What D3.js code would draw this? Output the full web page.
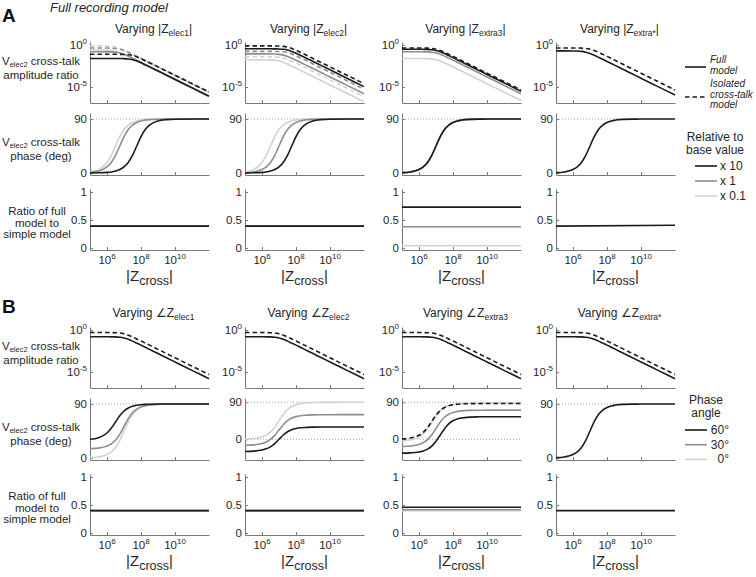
<!DOCTYPE html>
<html><head><meta charset="utf-8">
<script src="https://cdn.jsdelivr.net/npm/d3@7"></script>
<style>
body{margin:0;background:#fff;}
svg{font-family:"Liberation Sans",Arial,Helvetica,sans-serif;}
</style></head><body>
<svg id="c" width="756" height="577"></svg>
<script>
// ---------- DATA ----------
const zLog = [5,5.5,6,6.25,6.5,6.75,7,7.25,7.5,7.75,8,8.25,8.5,9,9.5,10,11,12]; // log10 |Z_cross|
const xTickExp = [6,8,10];

// amplitude ratio, log10 values (A = vary magnitude)
const ampA1_s10 = [-1.6,-1.6,-1.6,-1.6,-1.6,-1.61,-1.62,-1.66,-1.75,-1.91,-2.12,-2.36,-2.6,-3.1,-3.6,-4.1,-5.1,-6.1];
const ampA1_s1  = [-0.8,-0.8,-0.81,-0.82,-0.86,-0.95,-1.11,-1.32,-1.56,-1.8,-2.05,-2.3,-2.55,-3.05,-3.55,-4.05,-5.05,-6.05];
const ampA1_s01 = [-0.6,-0.6,-0.62,-0.66,-0.75,-0.91,-1.12,-1.36,-1.6,-1.85,-2.1,-2.35,-2.6,-3.1,-3.6,-4.1,-5.1,-6.1];
const ampA1_d10 = [-1.1,-1.1,-1.1,-1.1,-1.1,-1.11,-1.12,-1.16,-1.25,-1.41,-1.62,-1.86,-2.1,-2.6,-3.1,-3.6,-4.6,-5.6];
const ampA1_d1  = [-0.35,-0.35,-0.36,-0.37,-0.41,-0.5,-0.66,-0.87,-1.11,-1.35,-1.6,-1.85,-2.1,-2.6,-3.1,-3.6,-4.6,-5.6];
const ampA1_d01 = [-0.1,-0.1,-0.12,-0.16,-0.25,-0.41,-0.62,-0.86,-1.1,-1.35,-1.6,-1.85,-2.1,-2.6,-3.1,-3.6,-4.6,-5.6];

const ampA2_s10 = [-0.45,-0.45,-0.45,-0.45,-0.45,-0.46,-0.47,-0.51,-0.6,-0.76,-0.97,-1.21,-1.45,-1.95,-2.45,-2.95,-3.95,-4.95];
const ampA2_s1  = [-1.05,-1.05,-1.05,-1.05,-1.06,-1.07,-1.11,-1.2,-1.36,-1.57,-1.81,-2.05,-2.3,-2.8,-3.3,-3.8,-4.8,-5.8];
const ampA2_s01 = [-1.75,-1.75,-1.75,-1.76,-1.77,-1.81,-1.9,-2.06,-2.27,-2.51,-2.75,-3.0,-3.25,-3.75,-4.25,-4.75,-5.75,-6.75];
const ampA2_d10 = [-0.1,-0.1,-0.1,-0.1,-0.1,-0.11,-0.12,-0.16,-0.25,-0.41,-0.62,-0.86,-1.1,-1.6,-2.1,-2.6,-3.6,-4.6];
const ampA2_d1  = [-0.75,-0.75,-0.75,-0.75,-0.75,-0.76,-0.77,-0.81,-0.9,-1.06,-1.27,-1.51,-1.75,-2.25,-2.75,-3.25,-4.25,-5.25];
const ampA2_d01 = [-1.4,-1.4,-1.4,-1.4,-1.41,-1.42,-1.46,-1.55,-1.71,-1.92,-2.16,-2.4,-2.65,-3.15,-3.65,-4.15,-5.15,-6.15];

const ampA3_s10 = [-0.5,-0.5,-0.5,-0.51,-0.52,-0.56,-0.65,-0.81,-1.02,-1.26,-1.5,-1.75,-2.0,-2.5,-3.0,-3.5,-4.5,-5.5];
const ampA3_s1  = [-0.8,-0.8,-0.8,-0.81,-0.82,-0.86,-0.95,-1.11,-1.32,-1.56,-1.8,-2.05,-2.3,-2.8,-3.3,-3.8,-4.8,-5.8];
const ampA3_s01 = [-1.6,-1.6,-1.6,-1.61,-1.62,-1.66,-1.75,-1.91,-2.12,-2.36,-2.6,-2.85,-3.1,-3.6,-4.1,-4.6,-5.6,-6.6];
const ampA3_d   = [-0.35,-0.35,-0.35,-0.36,-0.37,-0.41,-0.5,-0.66,-0.87,-1.11,-1.35,-1.6,-1.85,-2.35,-2.85,-3.35,-4.35,-5.35];

const ampA4_s   = [-0.7,-0.7,-0.71,-0.72,-0.76,-0.85,-1.01,-1.22,-1.46,-1.7,-1.95,-2.2,-2.45,-2.95,-3.45,-3.95,-4.95,-5.95];
const ampA4_d   = [-0.35,-0.35,-0.35,-0.36,-0.37,-0.41,-0.5,-0.66,-0.87,-1.11,-1.35,-1.6,-1.85,-2.35,-2.85,-3.35,-4.35,-5.35];

// B = vary phase angle (amplitude curves coincide)
const ampB_s = [-0.8,-0.8,-0.8,-0.81,-0.82,-0.86,-0.95,-1.11,-1.32,-1.56,-1.8,-2.05,-2.3,-2.8,-3.3,-3.8,-4.8,-5.8];
const ampB_d = [-0.3,-0.3,-0.3,-0.31,-0.32,-0.36,-0.45,-0.61,-0.82,-1.06,-1.3,-1.55,-1.8,-2.3,-2.8,-3.3,-4.3,-5.3];

// phase (deg)
const phA1_10 = [0.1,0.3,1.0,1.8,3.2,5.7,10.1,17.6,29.4,45,60.6,72.5,79.9,86.8,89.0,89.7,90,90];
const phA1_1  = [1.0,3.2,10.1,17.6,29.4,45,60.6,72.5,79.9,84.3,86.8,88.2,89.0,89.7,89.9,90,90,90];
const phA1_01 = [1.8,5.7,17.6,29.4,45,60.6,72.5,79.9,84.3,86.8,88.2,89.0,89.4,89.8,89.9,90,90,90];
const phA2_10 = [0.1,0.3,1.0,1.8,3.2,5.7,10.1,17.6,29.4,45,60.6,72.5,79.9,86.8,89.0,89.7,90,90];
const phA2_1  = [0.6,1.8,5.7,10.1,17.6,29.4,45,60.6,72.5,79.9,84.3,86.8,88.2,89.4,89.8,89.9,90,90];
const phA2_01 = [1.8,5.7,17.6,29.4,45,60.6,72.5,79.9,84.3,86.8,88.2,89.0,89.4,89.8,89.9,90,90,90];
const phA3    = [0.6,1.8,5.7,10.1,17.6,29.4,45,60.6,72.5,79.9,84.3,86.8,88.2,89.4,89.8,89.9,90,90];
const phA4    = [0.6,1.8,5.7,10.1,17.6,29.4,45,60.6,72.5,79.9,84.3,86.8,88.2,89.4,89.8,89.9,90,90];

const phB1_60 = [31.2,33.8,41.7,49.6,60,70.4,78.3,83.3,86.2,87.9,88.8,89.3,89.6,89.9,89.9,90,90,90];
const phB1_30 = [15.5,16.5,19.8,23.4,29.7,39.5,52.5,65.5,75.4,81.6,85.2,87.3,88.5,89.5,89.8,89.9,90,90];
const phB1_0  = [0.6,1.8,5.7,10.1,17.6,29.4,45,60.6,72.5,79.9,84.3,86.8,88.2,89.4,89.8,89.9,90,90];
const phB2_60 = [-29.6,-28.8,-26.2,-23.3,-18.3,-10.4,0,10.4,18.3,23.3,26.2,27.9,28.8,29.6,29.9,29.9,30,30];
const phB2_30 = [-14.5,-13.5,-10.2,-6.6,-0.3,9.5,22.5,35.5,45.4,51.6,55.2,57.3,58.5,59.5,59.8,59.9,60,60];
const phB2_0  = [0.6,1.8,5.7,10.1,17.6,29.4,45,60.6,72.5,79.9,84.3,86.8,88.2,89.4,89.8,89.9,90,90];
const phB3_60 = [-33.7,-33,-30.8,-28.4,-24,-16.6,-4.9,10.5,25.9,37.7,45,49.4,51.8,54,54.7,54.9,55,55];
const phB3_30 = [-17.4,-16.2,-12.4,-8,-0.6,11.1,26.5,41.9,53.7,61,65.4,67.8,69.2,70.4,70.8,70.9,71,71];
const phB3_0  = [-4,-1.7,5.4,13.2,25.4,41.5,57.6,69.9,77.5,82.1,84.7,86.1,86.9,87.7,87.9,88,88,88];
const phB3_d  = [1.0,3.1,9.8,17,28.4,43.5,58.6,70.1,77.3,81.5,83.9,85.3,86.1,86.7,86.9,87,87,87];
const phB4    = [0.6,1.8,5.7,10.1,17.6,29.4,45,60.6,72.5,79.9,84.3,86.8,88.2,89.4,89.8,89.9,90,90];

// ratio of full model to simple model: [value at left, value at right]
const ratA1 = [[0.39,0.39],[0.39,0.39],[0.39,0.39]];   // x0.1, x1, x10
const ratA2 = [[0.39,0.39],[0.39,0.39],[0.39,0.39]];
const ratA3 = [[0.04,0.04],[0.38,0.38],[0.73,0.73]];
const ratA4 = [[0.39,0.405]];
const ratB1 = [[0.40,0.40],[0.40,0.40],[0.40,0.40]];   // 0°, 30°, 60°
const ratB2 = [[0.40,0.40],[0.40,0.40],[0.40,0.40]];
const ratB3 = [[0.40,0.40],[0.415,0.415],[0.46,0.46]];
const ratB4 = [[0.40,0.40]];

const titlesA = ["elec1","elec2","extra3","extra*"];
const legendRel = ["x 10","x 1","x 0.1"];
const legendPh  = ["60°","30°","0°"];

// ---------- LAYOUT / STYLE ----------
const C10="#1b1b1b", C1="#8e8e8e", C01="#d2d2d2", AX="#7a7a7a", TXT="#262626";
const cols = [[90,209],[245,364],[402,521],[556,675]];
const offB = 285;
const rowAmp = [103,42], rowPh = [175,113], rowRat = [250,189];

const svg = d3.select("#c");
const x = d3.scaleLog().domain([1e5,1e12]);

function rich(sel, parts, subSize, subDy, supDy){
  let shift = 0;
  parts.forEach(([s,m])=>{
    const target = m==="sub"?subDy:(m==="sup"?-supDy:0);
    const t = sel.append("tspan").text(s).attr("dy", target-shift);
    if(m!=="n") t.attr("font-size", subSize);
    shift = target;
  });
}

function axes(g, xs, ys, yTicks, yLabel, showX){
  g.append("g").attr("transform",`translate(0,${ys.range()[0]})`)
   .call(d3.axisBottom(xs).tickValues(xTickExp.map(e=>Math.pow(10,e))).tickSizeInner(-3).tickSizeOuter(0).tickFormat(""));
  g.append("g").attr("transform",`translate(${xs.range()[0]},0)`)
   .call(d3.axisLeft(ys).tickValues(yTicks).tickSizeInner(-3).tickSizeOuter(0).tickFormat(""));
  g.selectAll(".domain").attr("stroke",AX).attr("stroke-width",1.1);
  g.selectAll(".tick line").attr("stroke",AX);
  yTicks.forEach(v=>{
    const t = g.append("text").attr("x",xs.range()[0]-3).attr("y",ys(v)+4)
      .attr("text-anchor","end").attr("font-size",11.5).attr("fill",TXT);
    yLabel(t,v);
  });
  if(showX){
    xTickExp.forEach(e=>{
      const t = g.append("text").attr("x",xs(Math.pow(10,e))).attr("y",ys.range()[0]+14)
        .attr("text-anchor","middle").attr("font-size",11.5).attr("fill",TXT);
      rich(t,[["10","n"],[String(e),"sup"]],8,0,5);
    });
  }
}

function drawLines(g, xs, ys, series, valFn){
  const line = d3.line().x(d=>xs(Math.pow(10,d[0]))).y(d=>ys(valFn(d[1]))).curve(d3.curveMonotoneX);
  series.forEach(s=>{
    g.append("path").datum(zLog.map((z,i)=>[z,s.v[i]]))
     .attr("d",line).attr("fill","none").attr("stroke",s.c)
     .attr("stroke-width",s.w||1.6).attr("stroke-dasharray",s.d?"4.5,3":null);
  });
}

function dotted(g, xs, ys, v){
  g.append("line").attr("x1",xs.range()[0]).attr("x2",xs.range()[1])
   .attr("y1",ys(v)).attr("y2",ys(v)).attr("stroke","#8a8a8a")
   .attr("stroke-width",0.8).attr("stroke-dasharray","1,2");
}

function drawColumn(ci, off, ampSeries, phSeries, phDomain, phDots, ratSeries){
  const g = svg.append("g");
  const xs = x.copy().range(cols[ci]);
  // amplitude
  const ya = d3.scaleLog().domain([Math.pow(10,-6.9),Math.pow(10,0.36)]).range(rowAmp.map(v=>v+off));
  axes(g, xs, ya, [1e-5,1], (t,v)=>rich(t,[["10","n"],[v===1?"0":"-5","sup"]],8,0,5), false);
  drawLines(g, xs, ya, ampSeries, v=>Math.pow(10,v));
  // phase
  const yp = d3.scaleLinear().domain(phDomain).range(rowPh.map(v=>v+off));
  phDots.forEach(v=>dotted(g,xs,yp,v));
  axes(g, xs, yp, [0,90], (t,v)=>t.text(String(v)), false);
  drawLines(g, xs, yp, phSeries, v=>v);
  // ratio
  const yr = d3.scaleLinear().domain([-0.036,1.054]).range(rowRat.map(v=>v+off));
  axes(g, xs, yr, [0,0.5,1], (t,v)=>t.text(String(v)), true);
  const cl = [C01,C1,C10];
  const pick = ratSeries.length===1?[C10]:cl;
  ratSeries.forEach((r,i)=>{
    g.append("line").attr("x1",xs(1e5)).attr("x2",xs(1e12))
     .attr("y1",yr(r[0])).attr("y2",yr(r[1])).attr("stroke",pick[i]).attr("stroke-width",1.6);
  });
  // x label
  const t = g.append("text").attr("x",(cols[ci][0]+cols[ci][1])/2).attr("y",281+off)
    .attr("text-anchor","middle").attr("font-size",15).attr("fill",TXT);
  rich(t,[["|Z","n"],["cross","sub"],["|","n"]],12.5,4,0);
}

// Panel A
const phDomA = [-3.33,100];
drawColumn(0,0,
  [{v:ampA1_s01,c:C01},{v:ampA1_d01,c:C01,d:1},{v:ampA1_s1,c:C1},{v:ampA1_d1,c:C1,d:1},{v:ampA1_s10,c:C10},{v:ampA1_d10,c:C10,d:1}],
  [{v:phA1_01,c:C01},{v:phA1_1,c:C1},{v:phA1_10,c:C10}], phDomA, [90], ratA1);
drawColumn(1,0,
  [{v:ampA2_s01,c:C01},{v:ampA2_d01,c:C01,d:1},{v:ampA2_s1,c:C1},{v:ampA2_d1,c:C1,d:1},{v:ampA2_s10,c:C10},{v:ampA2_d10,c:C10,d:1}],
  [{v:phA2_01,c:C01},{v:phA2_1,c:C1},{v:phA2_10,c:C10}], phDomA, [90], ratA2);
drawColumn(2,0,
  [{v:ampA3_s01,c:C01},{v:ampA3_s1,c:C1},{v:ampA3_s10,c:C10},{v:ampA3_d,c:C10,d:1}],
  [{v:phA3,c:C01},{v:phA3,c:C1},{v:phA3,c:C10}], phDomA, [90], ratA3);
drawColumn(3,0,
  [{v:ampA4_s,c:C10},{v:ampA4_d,c:C10,d:1}],
  [{v:phA4,c:C10}], phDomA, [90], ratA4);

// Panel B
const phDomB1 = [-3.33,100], phDomB2 = [-50.4,100.5];
drawColumn(0,offB,[{v:ampB_s,c:C10},{v:ampB_d,c:C10,d:1}],
  [{v:phB1_0,c:C01},{v:phB1_30,c:C1},{v:phB1_60,c:C10}], phDomB1,[90], ratB1);
drawColumn(1,offB,[{v:ampB_s,c:C10},{v:ampB_d,c:C10,d:1}],
  [{v:phB2_0,c:C01},{v:phB2_30,c:C1},{v:phB2_60,c:C10}], phDomB2,[90,0], ratB2);
drawColumn(2,offB,[{v:ampB_s,c:C10},{v:ampB_d,c:C10,d:1}],
  [{v:phB3_0,c:C01},{v:phB3_30,c:C1},{v:phB3_60,c:C10},{v:phB3_d,c:C10,d:1}], phDomB2,[90,0], ratB3);
drawColumn(3,offB,[{v:ampB_s,c:C10},{v:ampB_d,c:C10,d:1}],
  [{v:phB4,c:C10}], phDomB1,[90], ratB4);

// titles
titlesA.forEach((s,i)=>{
  const cx=(cols[i][0]+cols[i][1])/2+4;
  let t=svg.append("text").attr("x",cx).attr("y",33).attr("text-anchor","middle").attr("font-size",12).attr("fill",TXT);
  rich(t,[["Varying |Z","n"],[s,"sub"],["|","n"]],8.5,3,0);
  t=svg.append("text").attr("x",cx).attr("y",33+offB-1).attr("text-anchor","middle").attr("font-size",12).attr("fill",TXT);
  rich(t,[["Varying \u2220Z","n"],[s,"sub"]],8.5,3,0);
});

// panel letters & header
svg.append("text").attr("x",2).attr("y",22).attr("font-size",19).attr("font-weight","bold").attr("fill","#111").text("A");
svg.append("text").attr("x",2).attr("y",313).attr("font-size",19).attr("font-weight","bold").attr("fill","#111").text("B");
svg.append("text").attr("x",50).attr("y",12).attr("font-size",13).attr("font-style","italic").attr("fill",TXT).text("Full recording model");

// row labels
[0,offB].forEach(off=>{
  let t=svg.append("text").attr("x",41).attr("y",65+off).attr("text-anchor","middle").attr("font-size",11.5).attr("fill",TXT);
  rich(t,[["V","n"],["elec2","sub"],[" cross-talk","n"]],7.5,2,0);
  svg.append("text").attr("x",41).attr("y",79+off).attr("text-anchor","middle").attr("font-size",11.5).attr("fill",TXT).text("amplitude ratio");
  t=svg.append("text").attr("x",41).attr("y",146+off).attr("text-anchor","middle").attr("font-size",11.5).attr("fill",TXT);
  rich(t,[["V","n"],["elec2","sub"],[" cross-talk","n"]],7.5,2,0);
  svg.append("text").attr("x",41).attr("y",160+off).attr("text-anchor","middle").attr("font-size",11.5).attr("fill",TXT).text("phase (deg)");
  ["Ratio of full","model to","simple model"].forEach((s,i)=>{
    svg.append("text").attr("x",37).attr("y",215+off+i*11.5).attr("text-anchor","middle").attr("font-size",11.5).attr("fill",TXT).text(s);
  });
});

// legend A: line styles
svg.append("line").attr("x1",685).attr("x2",706).attr("y1",67).attr("y2",67).attr("stroke",C10).attr("stroke-width",1.6);
svg.append("line").attr("x1",685).attr("x2",706).attr("y1",97).attr("y2",97).attr("stroke",C10).attr("stroke-width",1.6).attr("stroke-dasharray","4.5,3");
[["Full",63],["model",73.5],["Isolated",87],["cross-talk",97.5],["model",108]].forEach(([s,y])=>{
  svg.append("text").attr("x",710).attr("y",y).attr("font-size",10).attr("font-style","italic").attr("fill",TXT).text(s);
});
// legend A: relative
svg.append("text").attr("x",715).attr("y",140.5).attr("text-anchor","middle").attr("font-size",12).attr("fill",TXT).text("Relative to");
svg.append("text").attr("x",715).attr("y",154).attr("text-anchor","middle").attr("font-size",12).attr("fill",TXT).text("base value");
[C10,C1,C01].forEach((c,i)=>{
  const y=166+i*15;
  svg.append("line").attr("x1",695).attr("x2",717).attr("y1",y).attr("y2",y).attr("stroke",c).attr("stroke-width",1.6);
  svg.append("text").attr("x",720).attr("y",y+4).attr("font-size",12).attr("fill",TXT).text(legendRel[i]);
});
// legend B
svg.append("text").attr("x",706).attr("y",404).attr("text-anchor","middle").attr("font-size",12).attr("fill",TXT).text("Phase");
svg.append("text").attr("x",706).attr("y",417).attr("text-anchor","middle").attr("font-size",12).attr("fill",TXT).text("angle");
[C10,C1,C01].forEach((c,i)=>{
  const y=430+i*14.7;
  svg.append("line").attr("x1",685).attr("x2",707).attr("y1",y).attr("y2",y).attr("stroke",c).attr("stroke-width",1.6);
  svg.append("text").attr("x",729).attr("y",y+4).attr("text-anchor","end").attr("font-size",12).attr("fill",TXT).text(legendPh[i]);
});
</script>
</body></html>
